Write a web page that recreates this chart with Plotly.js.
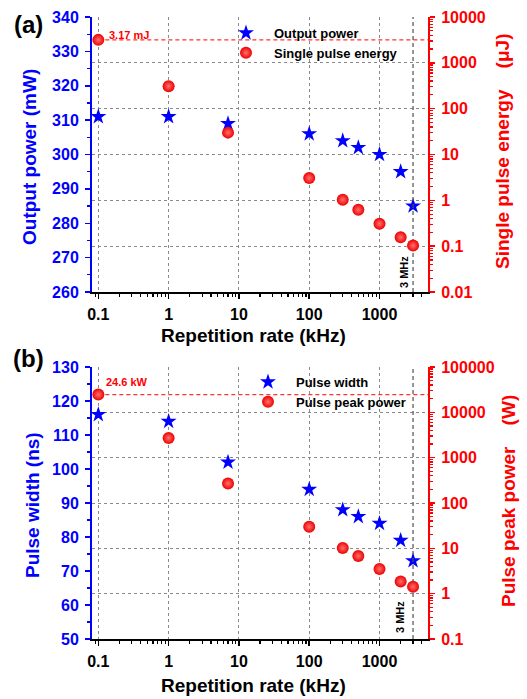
<!DOCTYPE html>
<html>
<head>
<meta charset="utf-8">
<script src="https://cdn.plot.ly/plotly-3.0.1.min.js"></script>
<style>html,body{margin:0;padding:0;background:#fff;}#chart{width:527px;height:699px;}</style>
</head>
<body>
<div id="chart"></div>
<script>
// ---------- data ----------
const repRate = [0.1, 1, 7, 100, 300, 500, 1000, 2000, 3000];          // kHz
const outputPower = [311, 311, 309, 306, 304, 302, 300, 295, 285];      // mW
const pulseEnergy = [3170, 310, 30, 3.07, 1.03, 0.62, 0.31, 0.156, 0.103]; // uJ
const pulseWidth = [116, 114, 102, 94, 88, 86, 84, 79, 73];             // ns
const peakPower = [24600, 2720, 270, 30, 10.2, 6.8, 3.5, 1.86, 1.42];    // W
const maxEnergy = 3170;   // uJ (3.17 mJ)
const maxPeak = 24600;    // W (24.6 kW)
const mhzRate = 3000;     // kHz (3 MHz)

// ---------- layout helpers ----------
const L = 92, R = 428, T = 17, B = 639, W = 527, H = 699;
const PW = R - L, PH = B - T;
const PX = x => (x - L) / PW;
const PY = y => (B - y) / PH;

const FONT = 'Liberation Sans, Arial, sans-serif';
const BLUE = '#0000ff', RED = '#ff0000', BLACK = '#000000';
const xRange = [-1.09, 3.69];
const topDomain = [PY(292), 1];
const botDomain = [0, PY(367)];

function xAxis(anchor) {
  return {
    type: 'log', range: xRange, anchor: anchor, domain: [0, 1],
    dtick: 1, tickformat: '~g',
    showline: true, linecolor: BLACK, linewidth: 2,
    ticks: 'outside', ticklen: 5, tickwidth: 1.5, tickcolor: BLACK,
    minor: {ticks: 'outside', ticklen: 3, tickwidth: 1.2, tickcolor: BLACK, showgrid: false},
    showgrid: true, gridcolor: '#8a8a8a', gridwidth: 1, griddash: 'dot',
    zeroline: false,
    tickfont: {family: FONT, size: 16, color: BLACK, weight: 'bold'},
    ticklabelstandoff: 2
  };
}
function topBorder(over, anchor) {
  return {
    type: 'log', range: xRange, overlaying: over, anchor: anchor, side: 'top',
    dtick: 1, showticklabels: false, showgrid: false, zeroline: false,
    showline: true, linecolor: BLACK, linewidth: 1.5,
    ticks: 'inside', ticklen: 5, tickwidth: 1.5, tickcolor: BLACK,
    minor: {ticks: 'inside', ticklen: 3, tickwidth: 1.2, tickcolor: BLACK, showgrid: false}
  };
}
function leftAxis(range, domain, anchor) {
  return {
    range: range, domain: domain, anchor: anchor, dtick: 10,
    showline: true, linecolor: BLUE, linewidth: 2,
    ticks: 'outside', ticklen: 5, tickwidth: 1.5, tickcolor: BLUE,
    minor: {dtick: 5, ticks: 'outside', ticklen: 3, tickwidth: 1.2, tickcolor: BLUE, showgrid: false},
    showgrid: false, zeroline: false,
    tickfont: {family: FONT, size: 16, color: BLUE, weight: 'bold'},
    ticklabelstandoff: 3
  };
}
function rightAxis(range, over, anchor) {
  return {
    type: 'log', range: range, overlaying: over, anchor: anchor, side: 'right',
    dtick: 1, tickformat: '~g',
    showline: true, linecolor: RED, linewidth: 2,
    ticks: 'outside', ticklen: 5, tickwidth: 1.5, tickcolor: RED,
    minor: {ticks: 'outside', ticklen: 3, tickwidth: 1.2, tickcolor: RED, showgrid: false},
    showgrid: true, gridcolor: '#8a8a8a', gridwidth: 1, griddash: 'dot',
    zeroline: false,
    tickfont: {family: FONT, size: 16, color: RED, weight: 'bold'},
    ticklabelstandoff: 3
  };
}

const starMarker = {symbol: 'star', size: 12, color: '#0000ff', line: {width: 0}};
const ballMarker = {symbol: 'circle', size: 12, color: '#ee0000',
  gradient: {type: 'radial', color: '#ff7070'}, line: {width: 0}};

const topY2Range = [-2, 4], botY4Range = [-1, 5];

const traces = [
  // top panel guide lines
  {x: [repRate[0], Math.pow(10, xRange[1])], y: [maxEnergy, maxEnergy], xaxis: 'x', yaxis: 'y2',
   mode: 'lines', line: {color: '#ff3333', width: 1.2, dash: '4px,3px'}, showlegend: false, hoverinfo: 'skip'},
  {x: [mhzRate, mhzRate], y: [Math.pow(10, topY2Range[0]), Math.pow(10, topY2Range[1])], xaxis: 'x', yaxis: 'y2',
   mode: 'lines', line: {color: '#505050', width: 1.2, dash: '4px,3px'}, showlegend: false, hoverinfo: 'skip'},
  // bottom panel guide lines
  {x: [repRate[0], Math.pow(10, xRange[1])], y: [maxPeak, maxPeak], xaxis: 'x2', yaxis: 'y4',
   mode: 'lines', line: {color: '#ff3333', width: 1.2, dash: '4px,3px'}, showlegend: false, hoverinfo: 'skip'},
  {x: [mhzRate, mhzRate], y: [Math.pow(10, botY4Range[0]), Math.pow(10, botY4Range[1])], xaxis: 'x2', yaxis: 'y4',
   mode: 'lines', line: {color: '#505050', width: 1.2, dash: '4px,3px'}, showlegend: false, hoverinfo: 'skip'},
  // data
  {x: repRate, y: outputPower, xaxis: 'x', yaxis: 'y', mode: 'markers', name: 'Output power',
   marker: starMarker, legend: 'legend'},
  {x: repRate, y: pulseEnergy, xaxis: 'x', yaxis: 'y2', mode: 'markers', name: 'Single pulse energy',
   marker: ballMarker, legend: 'legend'},
  {x: repRate, y: pulseWidth, xaxis: 'x2', yaxis: 'y3', mode: 'markers', name: 'Pulse width',
   marker: starMarker, legend: 'legend2'},
  {x: repRate, y: peakPower, xaxis: 'x2', yaxis: 'y4', mode: 'markers', name: 'Pulse peak power',
   marker: ballMarker, legend: 'legend2'}
];

const titleFont = c => ({family: FONT, size: 19, color: c, weight: 'bold'});
const nb = '\u00a0';
const ann = [
  {text: '(a)', x: PX(28), y: PY(25), font: {family: FONT, size: 24, color: BLACK, weight: 'bold'}},
  {text: '(b)', x: PX(28), y: PY(358), font: {family: FONT, size: 24, color: BLACK, weight: 'bold'}},
  {text: 'Output power (mW)', x: PX(30), y: PY(157), textangle: -90, font: titleFont(BLUE)},
  {text: 'Single pulse energy ' + nb + nb + nb + '(μJ)', x: PX(502), y: PY(152), textangle: -90, font: titleFont(RED)},
  {text: 'Repetition rate (kHz)', x: PX(253), y: PY(335), font: titleFont(BLACK)},
  {text: 'Pulse width (ns)', x: PX(33), y: PY(505), textangle: -90, font: titleFont(BLUE)},
  {text: 'Pulse peak power ' + nb + nb + nb + '(W)', x: PX(508), y: PY(501), textangle: -90, font: titleFont(RED)},
  {text: 'Repetition rate (kHz)', x: PX(253), y: PY(685), font: titleFont(BLACK)},
  {text: '3.17 mJ', x: PX(129), y: PY(35), font: {family: FONT, size: 11, color: RED, weight: 'bold'}},
  {text: '24.6 kW', x: PX(127), y: PY(382), font: {family: FONT, size: 11, color: RED, weight: 'bold'}},
  {text: '3 MHz', x: PX(404), y: PY(272), textangle: -90, font: {family: FONT, size: 11, color: BLACK, weight: 'bold'}},
  {text: '3 MHz', x: PX(400), y: PY(617), textangle: -90, font: {family: FONT, size: 11, color: BLACK, weight: 'bold'}}
].map(a => Object.assign({xref: 'paper', yref: 'paper', showarrow: false, xanchor: 'center', yanchor: 'middle'}, a));

const legendFont = {family: FONT, size: 13, color: BLACK, weight: 'bold'};
const layout = {
  width: W, height: H,
  margin: {l: L, r: W - R, t: T, b: H - B, pad: 0},
  paper_bgcolor: '#ffffff', plot_bgcolor: '#ffffff',
  showlegend: true,
  xaxis: xAxis('y'),
  xaxis2: xAxis('y3'),
  xaxis3: topBorder('x', 'y'),
  xaxis4: topBorder('x2', 'y3'),
  yaxis: leftAxis([260, 340], topDomain, 'x'),
  yaxis2: rightAxis(topY2Range, 'y', 'x'),
  yaxis3: leftAxis([50, 130], botDomain, 'x2'),
  yaxis4: rightAxis(botY4Range, 'y3', 'x2'),
  legend: {x: PX(218), y: PY(18), xanchor: 'left', yanchor: 'top', bgcolor: 'rgba(0,0,0,0)',
           font: legendFont, borderwidth: 0, tracegroupgap: 0, itemwidth: 46},
  legend2: {x: PX(240), y: PY(367), xanchor: 'left', yanchor: 'top', bgcolor: 'rgba(0,0,0,0)',
            font: legendFont, borderwidth: 0, tracegroupgap: 0, itemwidth: 46},
  annotations: ann,
  font: {family: FONT}
};

Plotly.newPlot('chart', traces, layout, {displayModeBar: false, staticPlot: true});
</script>
</body>
</html>
